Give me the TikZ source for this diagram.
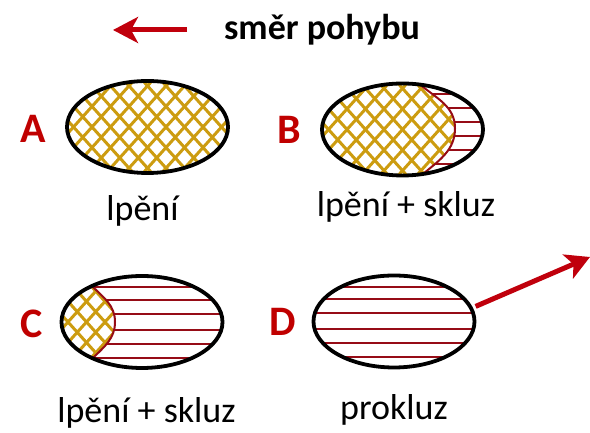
\documentclass[tikz,border=0pt]{standalone}
\usepackage{fontspec}
\setmainfont{Carlito}
\usepackage{tikz}
\usetikzlibrary{shapes.geometric,arrows.meta}
\definecolor{gripgold}{RGB}{204,156,16}
\definecolor{sliptone}{RGB}{150,12,22}
\definecolor{letterred}{RGB}{192,0,0}
\definecolor{arrowred}{RGB}{192,0,12}

\begin{document}
\begin{tikzpicture}[x=1pt, y=1pt,
    tyre/.style={ellipse, draw=black, line width=3.8pt, inner sep=0pt,
                 minimum width=161pt, minimum height=92pt},
    letter/.style={text=letterred, font=\fontsize{42}{46}\selectfont\bfseries},
    caption/.style={anchor=base, font=\fontsize{36}{40}\selectfont},
    grip/.style={draw=gripgold, line width=3pt},
    slipline/.style={draw=sliptone, line width=2pt},
    front/.style={draw=sliptone, line width=2pt},
    push/.style={draw=arrowred, line width=5pt,
                 -{Stealth[length=25pt,width=26pt,inset=7pt]}}]
                \useasboundingbox (0,0) rectangle (590,433);
                \coordinate (cA) at (147.5,306);
                \coordinate (cB) at (402.5,303.5);
                \coordinate (cC) at (142,111);
                \coordinate (cD) at (394,111.5);
                % direction of motion
                \coordinate (dirtail) at (187,403);
                \coordinate (dirtip) at (113,403);
                \draw[push] (dirtail) -- (dirtip);
                \node[anchor=base, font=\fontsize{36}{40}\selectfont\bfseries] (dir) at (322,393) {směr pohybu};
                % A
                \begin{scope}
                    \clip (cA) ellipse [x radius=80.5, y radius=46];
                    \foreach \k in {-10,...,10} {
                        \draw[grip] ([shift={(\k*18.5-90,-100)}]cA) -- ++(180,200);
                        \draw[grip] ([shift={(\k*18.5-90,100)}]cA) -- ++(180,-200);
                    }
                \end{scope}
                % B
                \begin{scope}
                    \clip (cB) ellipse [x radius=80.5, y radius=46];
                    \begin{scope}
                        \clip (420,380) -- (420,348.5) to[out=-40,in=90] (455,304.7) to[out=-90,in=40] (423,259) -- (423,220) -- (300,220) -- (300,380) -- cycle;
                        \foreach \k in {-10,...,10} {
                            \draw[grip] ([shift={(\k*18.5-90,-100)}]cB) -- ++(180,200);
                            \draw[grip] ([shift={(\k*18.5-90,100)}]cB) -- ++(180,-200);
                        }
                    \end{scope}
                    \clip (420,380) -- (420,348.5) to[out=-40,in=90] (455,304.7) to[out=-90,in=40] (423,259) -- (423,220) -- (520,220) -- (520,380) -- cycle;
                    \foreach \dy in {-35,-21,-7,7,21,35}
                        \draw[slipline] ([shift={(-100,\dy)}]cB) -- ++(200,0);
                \end{scope}
                \draw[front] (420,348.5) to[out=-40,in=90] (455,304.7) to[out=-90,in=40] (423,259);
                % C
                \begin{scope}
                    \clip (cC) ellipse [x radius=80.5, y radius=46];
                    \begin{scope}
                        \clip (92,180) -- (92,147) to[out=-45,in=90] (115,111) to[out=-90,in=45] (93,75) -- (93,40) -- (40,40) -- (40,180) -- cycle;
                        \foreach \k in {-10,...,10} {
                            \draw[grip] ([shift={(\k*18.5-90,-100)}]cC) -- ++(180,200);
                            \draw[grip] ([shift={(\k*18.5-90,100)}]cC) -- ++(180,-200);
                        }
                    \end{scope}
                    \clip (92,180) -- (92,147) to[out=-45,in=90] (115,111) to[out=-90,in=45] (93,75) -- (93,40) -- (260,40) -- (260,180) -- cycle;
                    \foreach \dy in {-36,-22,-8,8,22,35}
                        \draw[slipline] ([shift={(-100,\dy)}]cC) -- ++(200,0);
                \end{scope}
                \draw[front] (92,147) to[out=-45,in=90] (115,111) to[out=-90,in=45] (93,75);
                % D
                \begin{scope}
                    \clip (cD) ellipse [x radius=80.5, y radius=46];
                    \foreach \dy in {-36,-22,-8,8,22,34}
                        \draw[slipline] ([shift={(-100,\dy)}]cD) -- ++(200,0);
                \end{scope}
                % outlines
                \node[tyre] (tA) at (cA) {};
                \node[tyre] (tB) at (cB) {};
                \node[tyre] (tC) at (cC) {};
                \node[tyre] (tD) at (cD) {};
                \node[letter] (lA) at (33.5,304.5) {A};
                \node[letter] (lB) at (289,303) {B};
                \node[letter] (lC) at (32,109) {C};
                \node[letter] (lD) at (282.5,111) {D};
                \node[caption] (capA) at (142.5,212) {lpění};
                \node[caption] (capB) at (406,216) {lpění + skluz};
                \node[caption] (capC) at (146.5,10) {lpění + skluz};
                \node[caption] (capD) at (394,13) {prokluz};
                \coordinate (away) at (590,176);
                \draw[push, shorten <=3pt, -{Stealth[length=24pt,width=26pt,inset=6pt]}] (tD.10) -- (away);
            \end{tikzpicture}
\end{document}
